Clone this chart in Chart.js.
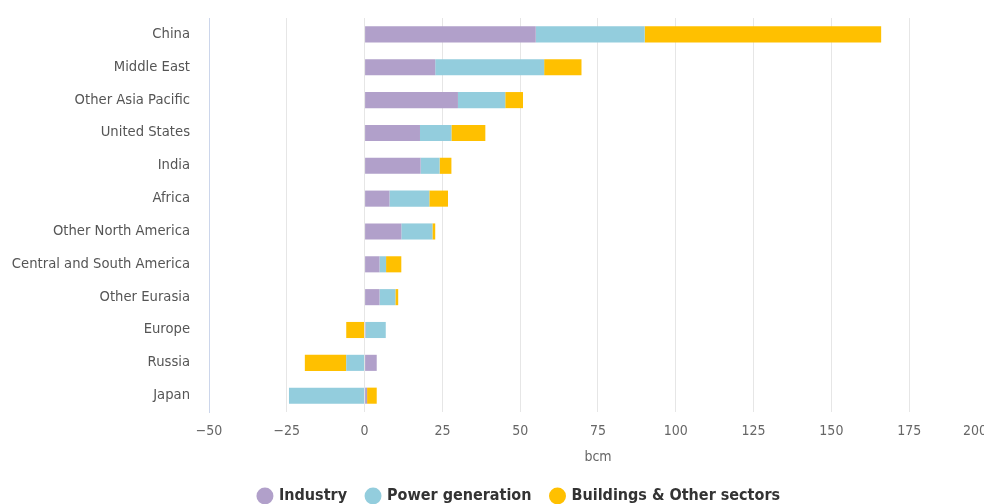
<!DOCTYPE html>
<html lang="en">
<head>
  <meta charset="UTF-8">
  <title>Gas demand growth by region and sector</title>
  <script src="https://cdn.jsdelivr.net/npm/chart.js"></script>
  <style>
    html, body {
      margin: 0;
      padding: 0;
      background: #fff;
      overflow: hidden;
    }
    canvas { display: block; margin-top: -4.5px; }
  </style>
</head>
<body>
  <canvas id="grafico" width="1024" height="518"></canvas>

  <script>
    const regioes = ['China', 'Middle East', 'Other Asia Pacific', 'United States', 'India', 'Africa',
      'Other North America', 'Central and South America', 'Other Eurasia', 'Europe', 'Russia', 'Japan'];
    const industria = [55, 22.7, 30, 17.8, 18, 8, 11.8, 4.8, 4.8, 0.3, 3.9, 0.8];
    const energia = [35, 35, 15.2, 10.1, 6.1, 12.8, 10, 2.1, 5.1, 6.5, -5.9, -24.3];
    const edificios = [76, 12, 5.7, 10.9, 3.8, 6, 0.9, 4.9, 0.9, -5.9, -13.3, 3.1];
    const ticksX = [-50, -25, 0, 25, 50, 75, 100, 125, 150, 175, 200];

    const fonte = "'DejaVu Sans', sans-serif";
    const condensada = "'DejaVu Sans Condensed', 'DejaVu Sans', sans-serif";

    // empurra a legenda um pouco para a direita, como no original
    const moverLegenda = {
      id: 'moverLegenda',
      afterLayout(chart) {
        chart.legend.left += 14;
        chart.legend.right += 14;
      }
    };

    new Chart(document.getElementById('grafico'), {
      type: 'bar',
      data: {
        labels: regioes,
        datasets: [
          { label: 'Industry', data: industria, backgroundColor: '#b1a0ca' },
          { label: 'Power generation', data: energia, backgroundColor: '#93cddd' },
          { label: 'Buildings & Other sectors', data: edificios, backgroundColor: '#ffc000' }
        ]
      },
      plugins: [moverLegenda],
      options: {
        indexAxis: 'y',
        responsive: false,
        animation: false,
        devicePixelRatio: 1,
        categoryPercentage: 1,
        barPercentage: 0.49,
        layout: { padding: { top: 22, right: 13, bottom: 0, left: 0 } },
        plugins: {
          tooltip: { enabled: false },
          legend: {
            position: 'bottom',
            labels: {
              usePointStyle: true,
              pointStyle: 'circle',
              boxWidth: 12,
              boxHeight: 12,
              padding: 20,
              color: '#333',
              font: { family: condensada, size: 16, weight: 'bold' }
            }
          }
        },
        scales: {
          x: {
            stacked: true,
            min: -50,
            max: 200,
            afterBuildTicks: eixo => { eixo.ticks = ticksX.map(v => ({ value: v })); },
            grid: { color: '#e6e6e6', drawTicks: false },
            border: { display: false },
            ticks: {
              color: '#666', padding: 13,
              font: { family: condensada, size: 14, lineHeight: 0.85 },
              // o último rótulo fica encostado na borda, como no original
              callback: v => String(v).replace('-', '\u2212') + (v === 200 ? '\u2007\u2007\u2007' : '')
            },
            title: { display: true, text: 'bcm', color: '#666', padding: { top: 0, bottom: 4 },
              font: { family: condensada, size: 14, lineHeight: 1 } }
          },
          y: {
            stacked: true,
            grid: { display: false },
            border: { display: true, color: '#ccd6eb' },
            ticks: { color: '#555', padding: 11, font: { family: fonte, size: 13.2 } },
            afterFit: eixo => { eixo.width = 209; }
          }
        }
      }
    });
  </script>
</body>
</html>
